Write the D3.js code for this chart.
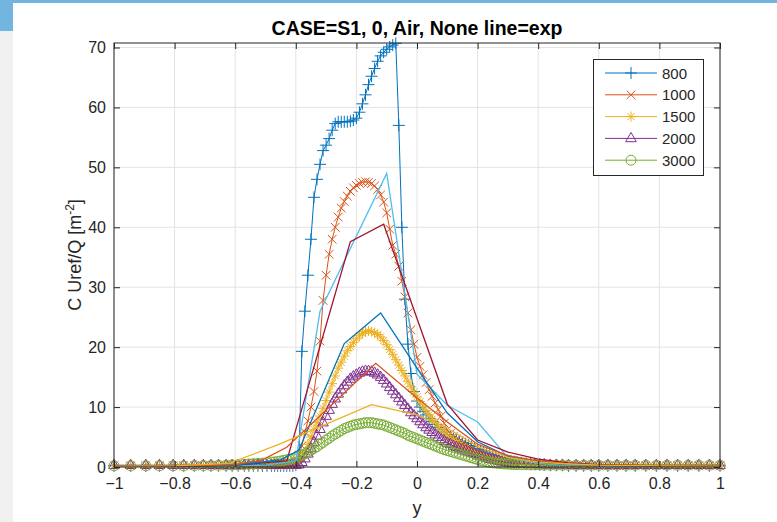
<!DOCTYPE html>
<html>
<head>
<meta charset="utf-8">
<script src="https://cdn.jsdelivr.net/npm/d3@7"></script>
<style>
  body { margin: 0; background: #ffffff; }
  svg { display: block; font-family: "Liberation Sans", Arial, sans-serif; }
</style>
</head>
<body>
<div id="chart"></div>
<script>
// positions across the section (shared by the simulated series)
var yPos = [
  -1, -0.945, -0.895, -0.85, -0.805, -0.77, -0.735, -0.705, -0.68,
  -0.655, -0.63, -0.61, -0.59, -0.57, -0.555, -0.54, -0.525, -0.51,
  -0.495, -0.48, -0.47, -0.46, -0.45, -0.44, -0.43, -0.42, -0.41,
  -0.40, -0.39, -0.38, -0.37, -0.36, -0.35, -0.34, -0.33, -0.32, -0.31,
  -0.30, -0.29, -0.28, -0.27, -0.26, -0.25, -0.24, -0.23, -0.22, -0.21,
  -0.20, -0.19, -0.18, -0.17, -0.16, -0.15, -0.14, -0.13, -0.12, -0.11,
  -0.10, -0.09, -0.08, -0.07, -0.06, -0.05, -0.04, -0.03, -0.02, -0.01,
  0.00, 0.01, 0.02, 0.03, 0.04, 0.05, 0.06, 0.07, 0.08, 0.09,
  0.10, 0.11, 0.12, 0.13, 0.14, 0.15, 0.16, 0.17, 0.18, 0.19,
  0.20, 0.21, 0.22, 0.23, 0.24, 0.25, 0.26, 0.27, 0.28, 0.29,
  0.30,
  0.31, 0.32, 0.33, 0.345, 0.36, 0.375, 0.39, 0.405, 0.42, 0.44,
  0.46, 0.48, 0.5, 0.525, 0.55, 0.575, 0.6, 0.63, 0.66, 0.69,
  0.72, 0.755, 0.79, 0.825, 0.86, 0.895, 0.93, 0.965, 1
];

var sim800 = [
  0.2, 0.2, 0.2, 0.2, 0.2, 0.2, 0.2, 0.2, 0.2,
  0.2, 0.2, 0.2, 0.2, 0.2, 0.2, 0.2, 0.2, 0.2,
  0.2, 0.2, 0.2, 0.2, 0.2, 0.2, 0.2, 0.2, 0.2,
  0.3, 1.0, 19.3, 26, 32, 38, 45, 48, 50.5, 52.8,
  53.7, 54.8, 56.2, 57.3, 57.6, 57.6, 57.6, 57.6, 57.7, 57.9,
  58.2, 59.2, 60.6, 62.1, 63.8, 65.2, 66.5, 67.7, 68.6, 69.2,
  69.7, 70.1, 70.4, 70.7, 57, 40, 28, 20.5, 15.6, 12.6,
  11, 10, 9.3, 8.7, 8.1, 7.6, 7.1, 6.6, 6.2, 5.8,
  5.4, 5.1, 4.8, 4.6, 4.3, 4.1, 3.9, 3.6, 3.4, 3.1,
  2.9, 2.7, 2.5, 2.3, 2.1, 1.9, 1.7, 1.5, 1.4, 1.2,
  1.1,
  1.0, 0.9, 0.8, 0.7, 0.6, 0.5, 0.5, 0.4, 0.4, 0.3,
  0.3, 0.3, 0.2, 0.2, 0.2, 0.2, 0.2, 0.2, 0.2, 0.2,
  0.2, 0.2, 0.2, 0.2, 0.2, 0.2, 0.2, 0.2, 0.2
];
var sim1000 = [
  0.2, 0.2, 0.2, 0.2, 0.2, 0.2, 0.2, 0.2, 0.2,
  0.2, 0.2, 0.2, 0.2, 0.2, 0.2, 0.25, 0.25, 0.3,
  0.3, 0.3, 0.3, 0.35, 0.35, 0.4, 0.4, 0.45, 0.5,
  1.0, 2.0, 3.5, 5.8, 7.7, 10, 12.6, 16, 21, 27.8,
  32, 35.5, 38, 40, 41.7, 43.2, 44.3, 45.2, 46, 46.6,
  47, 47.3, 47.5, 47.6, 47.5, 47.3, 46.9, 46.3, 45.4, 44.2,
  42.4, 39.7, 37, 35.5, 33.5, 31, 28.4, 25.7, 22.9, 20.5,
  18.3, 16.8, 15.4, 14.1, 12.9, 11.8, 10.7, 9.6, 8.5, 7.3,
  6.2, 5.6, 5.1, 4.7, 4.3, 4.0, 3.7, 3.4, 3.1, 2.8,
  2.5, 2.2, 2.0, 1.8, 1.6, 1.45, 1.3, 1.15, 1.0, 0.9,
  0.8,
  0.75, 0.7, 0.65, 0.6, 0.55, 0.5, 0.45, 0.4, 0.4, 0.35,
  0.3, 0.3, 0.3, 0.25, 0.25, 0.2, 0.2, 0.2, 0.2, 0.2,
  0.2, 0.2, 0.2, 0.2, 0.2, 0.2, 0.2, 0.2, 0.2
];
var sim1500 = [
  0.2, 0.2, 0.2, 0.2, 0.2, 0.2, 0.2, 0.2, 0.2,
  0.2, 0.2, 0.2, 0.2, 0.25, 0.25, 0.25, 0.3, 0.3,
  0.3, 0.3, 0.3, 0.3, 0.3, 0.3, 0.3, 0.3, 0.3,
  0.3, 0.8, 1.5, 2.5, 3.8, 5.0, 6.3, 7.4, 8.5, 9.8,
  11.1, 12.5, 13.9, 15.2, 16.5, 17.5, 18.5, 19.4, 20.1, 20.8,
  21.4, 21.9, 22.3, 22.6, 22.7, 22.6, 22.4, 22.1, 21.7, 21.1,
  20.4, 19.6, 18.8, 17.9, 17.0, 16.1, 15.2, 14.3, 13.4, 12.5,
  11.7, 10.9, 10.1, 9.4, 8.7, 8.0, 7.4, 6.8, 6.2, 5.7,
  5.2, 4.8, 4.4, 4.1, 3.7, 3.4, 3.1, 2.8, 2.6, 2.4,
  2.2, 2.0, 1.8, 1.65, 1.5, 1.35, 1.2, 1.1, 1.0, 0.9,
  0.8,
  0.75, 0.7, 0.65, 0.6, 0.55, 0.5, 0.5, 0.45, 0.4, 0.4,
  0.35, 0.35, 0.3, 0.3, 0.3, 0.3, 0.3, 0.3, 0.3, 0.3,
  0.3, 0.3, 0.3, 0.3, 0.3, 0.3, 0.3, 0.3, 0.3
];
var sim2000 = [
  0.3, 0.3, 0.3, 0.3, 0.3, 0.3, 0.3, 0.3, 0.3,
  0.3, 0.3, 0.3, 0.3, 0.3, 0.3, 0.35, 0.35, 0.35,
  0.35, 0.35, 0.35, 0.35, 0.35, 0.35, 0.3, 0.3, 0.3,
  0.3, 0.4, 0.8, 1.4, 2.2, 3.1, 4.1, 5.2, 6.3, 7.4,
  8.5, 9.5, 10.5, 11.4, 12.2, 12.9, 13.6, 14.2, 14.7, 15.1,
  15.4, 15.7, 15.9, 16.0, 16.0, 15.9, 15.7, 15.4, 15.0, 14.5,
  13.9, 13.3, 12.7, 12.1, 11.5, 10.9, 10.3, 9.7, 9.1, 8.6,
  8.1, 7.6, 7.1, 6.6, 6.2, 5.8, 5.4, 5.0, 4.6, 4.3,
  4.0, 3.8, 3.5, 3.3, 3.1, 2.9, 2.7, 2.5, 2.3, 2.15,
  1.9, 1.75, 1.6, 1.45, 1.3, 1.2, 1.1, 1.0, 0.9, 0.8,
  0.7,
  0.65, 0.6, 0.55, 0.5, 0.5, 0.45, 0.45, 0.4, 0.4, 0.35,
  0.35, 0.35, 0.3, 0.3, 0.3, 0.3, 0.3, 0.3, 0.3, 0.3,
  0.3, 0.3, 0.3, 0.3, 0.3, 0.3, 0.3, 0.3, 0.3
];
var sim3000 = [
  0.2, 0.2, 0.2, 0.2, 0.2, 0.2, 0.25, 0.25, 0.25,
  0.3, 0.3, 0.35, 0.4, 0.45, 0.5, 0.55, 0.6, 0.65,
  0.7, 0.8, 0.85, 0.9, 1.0, 1.1, 1.2, 1.3, 1.4,
  1.6, 1.8, 2.0, 2.2, 2.5, 2.8, 3.1, 3.4, 3.8, 4.1,
  4.5, 4.8, 5.2, 5.5, 5.8, 6.1, 6.4, 6.6, 6.8, 7.0,
  7.1, 7.2, 7.3, 7.4, 7.4, 7.4, 7.3, 7.2, 7.1, 7.0,
  6.8, 6.6, 6.4, 6.2, 6.0, 5.8, 5.6, 5.3, 5.1, 4.9,
  4.7, 4.5, 4.3, 4.1, 3.9, 3.7, 3.5, 3.3, 3.1, 2.9,
  2.75, 2.6, 2.45, 2.3, 2.15, 2.0, 1.85, 1.7, 1.55, 1.4,
  1.25, 1.1, 1.0, 0.9, 0.8, 0.7, 0.65, 0.6, 0.55, 0.5,
  0.5,
  0.45, 0.45, 0.4, 0.4, 0.4, 0.35, 0.35, 0.35, 0.3, 0.3,
  0.3, 0.3, 0.3, 0.3, 0.3, 0.3, 0.3, 0.3, 0.3, 0.3,
  0.3, 0.3, 0.3, 0.3, 0.3, 0.3, 0.3, 0.3, 0.3
];

// experimental profiles (plain lines)
var expX800 = [-1, -0.8, -0.6, -0.5, -0.4, -0.32, -0.1, 0, 0.1, 0.2, 0.3, 0.4, 0.5, 0.6, 0.8, 1];
var expY800 = [0.1, 0.1, 0.2, 0.3, 1.0, 26, 49, 15.5, 10.3, 7.5, 1.6, 0.6, 0.3, 0.2, 0.1, 0.1];
var expX1000 = [-1, -0.8, -0.6, -0.43, -0.22, -0.11, 0.1, 0.2, 0.3, 0.4, 0.5, 0.6, 0.8, 1];
var expY1000 = [0.1, 0.1, 0.3, 1.0, 37.6, 40.5, 10.5, 4.5, 2.5, 1.3, 0.7, 0.4, 0.2, 0.1];
var expX1500 = [-1, -0.8, -0.6, -0.45, -0.39, -0.24, -0.12, 0, 0.1, 0.2, 0.3, 0.4, 0.5, 0.6, 0.8, 1];
var expY1500 = [0.1, 0.1, 0.3, 1.2, 2.8, 20.6, 25.7, 16.5, 9.0, 4.2, 1.8, 0.8, 0.4, 0.3, 0.1, 0.1];
var expX2000 = [-1, -0.8, -0.6, -0.51, -0.43, -0.136, 0, 0.1, 0.2, 0.3, 0.4, 0.5, 0.6, 0.8, 1];
var expY2000 = [0.1, 0.1, 0.4, 1.2, 3.3, 17.3, 11.5, 7.5, 3.8, 1.9, 1.0, 0.5, 0.3, 0.2, 0.1];
var expX3000 = [-1, -0.8, -0.62, -0.45, -0.15, 0, 0.1, 0.2, 0.3, 0.4, 0.5, 0.6, 0.8, 1];
var expY3000 = [0.1, 0.2, 0.6, 3.9, 10.4, 8.7, 6.5, 3.4, 1.6, 0.8, 0.5, 0.3, 0.2, 0.1];

var seriesNames = ["800", "1000", "1500", "2000", "3000"];
var xTicks = [-1, -0.8, -0.6, -0.4, -0.2, 0, 0.2, 0.4, 0.6, 0.8, 1];
var yTicks = [0, 10, 20, 30, 40, 50, 60, 70];

var W = 777, H = 522;
var svg = d3.select("#chart").append("svg").attr("width", W).attr("height", H);

// window chrome
svg.append("rect").attr("x", 0).attr("y", 0).attr("width", 13).attr("height", H).attr("fill", "#f0f0f0");
svg.append("rect").attr("x", 0).attr("y", 0).attr("width", W).attr("height", 3).attr("fill", "#72b6e0");
svg.append("rect").attr("x", 0).attr("y", 0).attr("width", 13).attr("height", 31).attr("fill", "#72b6e0");

var x = d3.scaleLinear().domain([-1, 1]).range([114, 720]);
var y = d3.scaleLinear().domain([0, 70.75]).range([467, 43]);

var colors = ["#0072BD", "#D95319", "#EDB120", "#7E2F8E", "#77AC30"];
var expColors = ["#4DBEEE", "#A2142F", "#0072BD", "#D95319", "#EDB120"];
var markers = ["plus", "cross", "star", "tri", "circle"];

function markerPath(kind) {
  if (kind === "plus") return "M-6,0H6M0,-6V6";
  if (kind === "cross") return "M-4.3,-4.3L4.3,4.3M-4.3,4.3L4.3,-4.3";
  if (kind === "star") return "M-5,0H5M0,-5V5M-3.5,-3.5L3.5,3.5M-3.5,3.5L3.5,-3.5";
  if (kind === "tri") return "M0,-6L5.3,3.3L-5.3,3.3Z";
  return "M5,0A5,5 0 1,1 -5,0A5,5 0 1,1 5,0Z";
}

// grid
var grid = svg.append("g");
grid.selectAll("line.gx").data(xTicks).enter().append("line")
  .attr("x1", function (d) { return x(d); }).attr("x2", function (d) { return x(d); })
  .attr("y1", y(70.75)).attr("y2", y(0))
  .attr("stroke", "#e3e3e3").attr("stroke-width", 1);
grid.selectAll("line.gy").data(yTicks).enter().append("line")
  .attr("y1", function (d) { return y(d); }).attr("y2", function (d) { return y(d); })
  .attr("x1", x(-1)).attr("x2", x(1))
  .attr("stroke", "#e3e3e3").attr("stroke-width", 1);

svg.append("clipPath").attr("id", "plotclip").append("rect")
  .attr("x", x(-1) - 8).attr("y", y(70.75) - 8).attr("width", x(1) - x(-1) + 16).attr("height", y(0) - y(70.75) + 16);
var plot = svg.append("g").attr("clip-path", "url(#plotclip)");

var line = d3.line().x(function (d) { return x(d[0]); }).y(function (d) { return y(d[1]); });

var sims = [sim800, sim1000, sim1500, sim2000, sim3000];
sims.forEach(function (vals, i) {
  var pts = yPos.map(function (p, k) { return [p, vals[k]]; });
  plot.append("path").datum(pts)
    .attr("fill", "none").attr("stroke", colors[i]).attr("stroke-width", 1)
    .attr("d", line);
  plot.append("g").selectAll("path").data(pts).enter().append("path")
    .attr("transform", function (d) { return "translate(" + x(d[0]) + "," + y(d[1]) + ")"; })
    .attr("d", markerPath(markers[i]))
    .attr("fill", "none").attr("stroke", colors[i]).attr("stroke-width", 1);
});

var exps = [[expX800, expY800], [expX1000, expY1000], [expX1500, expY1500], [expX2000, expY2000], [expX3000, expY3000]];
exps.forEach(function (e, i) {
  var pts = e[0].map(function (p, k) { return [p, e[1][k]]; });
  plot.append("path").datum(pts)
    .attr("fill", "none").attr("stroke", expColors[i]).attr("stroke-width", 1.3)
    .attr("d", line);
});

// axes (ticks inside, box on)
var axisColor = "#262626";
function styleAxis(g) {
  g.select(".domain").remove();
  g.selectAll(".tick line").attr("stroke", axisColor);
  g.selectAll(".tick text").attr("fill", axisColor).style("font-size", "16px")
    .style("font-family", "'Liberation Sans', Arial, sans-serif");
}
svg.append("g").attr("transform", "translate(0," + y(0) + ")")
  .call(d3.axisBottom(x).tickValues(xTicks).tickSize(-6).tickPadding(11)
    .tickFormat(function (d) { return d === 0 ? "0" : d3.format("")(d); }))
  .call(styleAxis);
svg.append("g").attr("transform", "translate(" + x(-1) + ",0)")
  .call(d3.axisLeft(y).tickValues(yTicks).tickSize(-6).tickPadding(8))
  .call(styleAxis);
svg.append("g").attr("transform", "translate(0," + y(70.75) + ")")
  .call(d3.axisTop(x).tickValues(xTicks).tickSize(-6).tickFormat(""))
  .call(styleAxis);
svg.append("g").attr("transform", "translate(" + x(1) + ",0)")
  .call(d3.axisRight(y).tickValues(yTicks).tickSize(-6).tickFormat(""))
  .call(styleAxis);
svg.append("rect")
  .attr("x", x(-1)).attr("y", y(70.75)).attr("width", x(1) - x(-1)).attr("height", y(0) - y(70.75))
  .attr("fill", "none").attr("stroke", axisColor).attr("stroke-width", 1);

// title and labels
svg.append("text").attr("x", (x(-1) + x(1)) / 2).attr("y", 35)
  .attr("text-anchor", "middle").attr("font-weight", "bold").attr("font-size", "19.5px")
  .attr("fill", "#000").text("CASE=S1, 0, Air, None line=exp");
svg.append("text").attr("x", (x(-1) + x(1)) / 2).attr("y", 514)
  .attr("text-anchor", "middle").attr("font-size", "18px").attr("fill", axisColor).text("y");
var yl = svg.append("text")
  .attr("transform", "translate(81," + ((y(0) + y(70.75)) / 2) + ") rotate(-90)")
  .attr("text-anchor", "middle").attr("font-size", "18px").attr("fill", axisColor);
yl.append("tspan").text("C Uref/Q [m");
yl.append("tspan").attr("dy", -7).attr("font-size", "12px").text("-2");
yl.append("tspan").attr("dy", 7).text("]");

// legend
var lg = svg.append("g");
lg.append("rect").attr("x", 593.5).attr("y", 59.5).attr("width", 110).attr("height", 116)
  .attr("fill", "#fff").attr("stroke", axisColor).attr("stroke-width", 1);
seriesNames.forEach(function (name, i) {
  var ly = 73 + i * 21.8;
  lg.append("line").attr("x1", 605).attr("x2", 657).attr("y1", ly).attr("y2", ly)
    .attr("stroke", colors[i]).attr("stroke-width", 1);
  lg.append("path").attr("transform", "translate(631," + ly + ")").attr("d", markerPath(markers[i]))
    .attr("fill", "none").attr("stroke", colors[i]).attr("stroke-width", 1);
  lg.append("text").attr("x", 662).attr("y", ly + 5.5).attr("font-size", "15px")
    .attr("fill", axisColor).text(name);
});
</script>
</body>
</html>
